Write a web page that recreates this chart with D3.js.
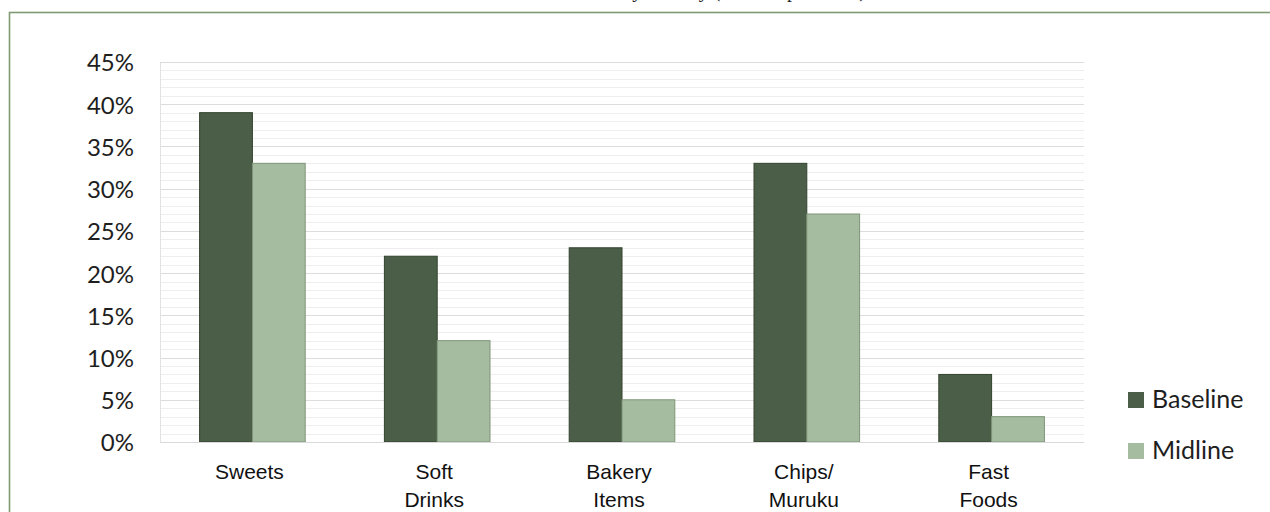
<!DOCTYPE html>
<meta charset="utf-8">
<script src="https://d3js.org/d3.v7.min.js"></script>
<style>
    body { margin: 0; background: #fff; }
    svg { display: block; }
</style>
<div id="chart"></div>
<script>

    // data
    var categories = [["Sweets"], ["Soft", "Drinks"], ["Bakery", "Items"], ["Chips/", "Muruku"], ["Fast", "Foods"]];
    var seriesNames = ["Baseline", "Midline"];
    var baseline = [39, 22, 23, 33, 8];
    var midline = [33, 12, 5, 27, 3];
    var yTicks = [0, 5, 10, 15, 20, 25, 30, 35, 40, 45];
    var colors = ["#4b5e47", "#a6bca0"];
    var strokes = ["#34432f", "#7f9479"];

    var W = 1270, H = 512;
    var margin = {top: 62, right: 186, bottom: 70, left: 160},
        width = W - margin.left - margin.right,
        height = H - margin.top - margin.bottom;

    var svg = d3.select("#chart")
        .append("svg")
        .attr("width", W)
        .attr("height", H);

    // frame round the figure (only top + left edges are visible)
    svg.append("rect")
        .attr("x", 9.5).attr("y", 12.5)
        .attr("width", W + 20).attr("height", H + 20)
        .attr("fill", "none")
        .attr("stroke", "#7e9b72")
        .attr("stroke-width", 1.6);

    // title, mostly cut off above the picture
    svg.append("text")
        .attr("x", 866).attr("y", -3)
        .attr("text-anchor", "end")
        .style("font-family", "'Liberation Serif', serif")
        .style("font-size", "20px")
        .attr("fill", "#222")
        .text("Junk food consumed yesterday (% of respondents)");

    var g = svg.append("g")
        .attr("transform", "translate(" + margin.left + "," + margin.top + ")");

    var keys = categories.map(function(d) { return d.join(" "); });

    var x = d3.scaleBand()
        .domain(keys)
        .range([0, width]);

    var x1 = d3.scaleBand()
        .domain(seriesNames)
        .range([0, x.bandwidth() / 1.75]);

    var y = d3.scaleLinear()
        .domain([0, 45])
        .range([height, 0]);

    // gridlines: minor every 1%, major every 5%
    g.append("g")
        .selectAll("line")
        .data(d3.range(1, 45))
        .enter()
        .append("line")
        .attr("x1", 0).attr("x2", width)
        .attr("y1", function(d) { return Math.round(y(d)) + 0.5; })
        .attr("y2", function(d) { return Math.round(y(d)) + 0.5; })
        .attr("stroke", function(d) { return d % 5 === 0 ? "#dcdcdc" : "#eeeeee"; })
        .attr("stroke-width", 1.2);

    g.append("line")
        .attr("x1", 0.5).attr("x2", 0.5)
        .attr("y1", y(45)).attr("y2", height)
        .attr("stroke", "#e2e2e2");
    g.append("line")
        .attr("x1", 0).attr("x2", width)
        .attr("y1", y(45) + 0.5).attr("y2", y(45) + 0.5)
        .attr("stroke", "#dcdcdc");

    // y axis labels
    var yAxis = g.append("g")
        .attr("transform", "translate(-26,0)")
        .call(d3.axisLeft(y).tickValues(yTicks).tickSize(0).tickFormat(function(d) { return d + "%"; }));
    yAxis.select(".domain").remove();
    yAxis.selectAll("text")
        .style("font-family", "Lato, 'Open Sans', sans-serif")
        .style("font-size", "24px")
        .attr("fill", "#1e1e1e")
        .attr("x", 0)
        .attr("dy", "0.37em");

    // bars
    var rows = keys.map(function(k, i) { return {key: k, values: [baseline[i], midline[i]]}; });

    var groups = g.selectAll(".grp")
        .data(rows)
        .enter()
        .append("g")
        .attr("class", "grp")
        .attr("transform", function(d) {
            return "translate(" + (x(d.key) + (x.bandwidth() - x1.range()[1]) / 2) + ",0)";
        });

    groups.selectAll("rect")
        .data(function(d) { return d.values.map(function(v, j) { return {name: seriesNames[j], value: v, j: j}; }); })
        .enter()
        .append("rect")
        .attr("x", function(d) { return x1(d.name); })
        .attr("y", function(d) { return y(d.value); })
        .attr("width", x1.bandwidth())
        .attr("height", function(d) { return height - y(d.value); })
        .attr("fill", function(d) { return colors[d.j]; })
        .attr("stroke", function(d) { return strokes[d.j]; })
        .attr("stroke-width", 1);

    // bottom axis line
    g.append("line")
        .attr("x1", 0).attr("x2", width)
        .attr("y1", height + 0.5).attr("y2", height + 0.5)
        .attr("stroke", "#d9d9d9")
        .attr("stroke-width", 1.2);

    // category labels (two lines where needed)
    var xl = g.selectAll(".xlab")
        .data(categories)
        .enter()
        .append("text")
        .attr("class", "xlab")
        .attr("text-anchor", "middle")
        .attr("transform", function(d) {
            return "translate(" + (x(d.join(" ")) + x.bandwidth() / 2 - 3) + "," + (height + 37) + ")";
        })
        .style("font-family", "'Liberation Sans', Arial, sans-serif")
        .style("font-size", "21px")
        .attr("fill", "#111");
    xl.selectAll("tspan")
        .data(function(d) { return d; })
        .enter()
        .append("tspan")
        .attr("x", 0)
        .attr("dy", function(d, i) { return i === 0 ? 0 : 27.5; })
        .text(function(d) { return d; });

    // legend
    var legend = svg.append("g")
        .attr("transform", "translate(1128,392)");
    var li = legend.selectAll("g")
        .data(seriesNames)
        .enter()
        .append("g")
        .attr("transform", function(d, i) { return "translate(0," + (i * 51) + ")"; });
    li.append("rect")
        .attr("width", 16).attr("height", 16)
        .attr("fill", function(d, i) { return colors[i]; });
    li.append("text")
        .attr("x", 24).attr("y", 15.5)
        .style("font-family", "Lato, 'Open Sans', sans-serif")
        .style("font-size", "25px")
        .attr("fill", "#1e1e1e")
        .text(function(d) { return d; });

</script>
